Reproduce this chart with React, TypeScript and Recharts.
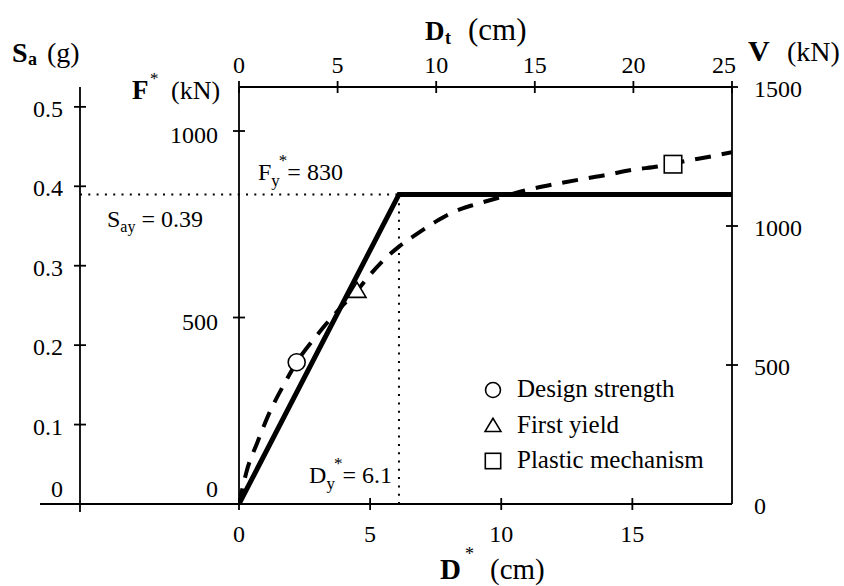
import React from 'react';
import { ComposedChart, Line, Scatter, XAxis, YAxis, ReferenceLine, Label, Legend } from 'recharts';

const FONT = '"Liberation Serif", "Times New Roman", Times, serif';
const INK = '#000';

// ---------- data ----------
const bilinearD = [0, 6.1, 18.8];
const bilinearF = [0, 830, 830];
const pushoverD = [0, 0.3, 0.7, 1.1, 1.75, 2.2, 3, 3.5, 4, 4.5, 5, 5.5, 6.1, 6.8, 7.5, 8, 8.5, 9, 10, 11, 12, 13, 14, 15, 16, 17, 18, 18.8];
const pushoverF = [0, 90, 165, 235, 325, 380, 455, 497, 536, 572, 615, 653, 690, 725, 757, 777, 792, 803, 823, 842, 857, 870, 882, 896, 905, 919, 932, 943];
const markerNames = ['Design strength', 'First yield', 'Plastic mechanism'];
const markerKinds = ['circle', 'triangle', 'square'];
const markerD = [2.2, 4.5, 16.55];
const markerF = [380, 572, 911];
const dStarTicks = [0, 5, 10, 15];
const dtTicks = [0, 5, 10, 15, 20, 25];
const fTicks = [0, 500, 1000];
const saTicks = [0, 0.1, 0.2, 0.3, 0.4, 0.5];
const vTicks = [0, 500, 1000, 1500];
const FY = 830;
const DY = 6.1;
const SAY = 0.39;
const D_DOMAIN: [number, number] = [0, 18.8];
const DT_DOMAIN: [number, number] = [0, 25];
const F_DOMAIN: [number, number] = [0, 1118];
const SA_DOMAIN: [number, number] = [0, 0.525];
const V_DOMAIN: [number, number] = [0, 1500];

// ---------- layout ----------
const W = 844;
const H = 586;
const TOP_H = 87;
const BOTTOM_H = 82;
const F_W = 159;
const SA_W = 80;
const V_W = 112;
const LEFT_EXT = 199;

const bilinear = bilinearD.map((d, i) => ({ d, f: bilinearF[i] }));
const pushover = pushoverD.map((d, i) => ({ d, f: pushoverF[i] }));
const markers = markerNames.map((name, i) => ({ name, kind: markerKinds[i], data: [{ d: markerD[i], f: markerF[i] }] }));
// rows that carry the top (Dt) axis scale
const dtRows = dtTicks.map((dt) => ({ dt }));

const txt = { fontFamily: FONT, fontSize: 24, fill: INK, style: { fontFamily: FONT } } as const;
const AX = { stroke: INK, strokeWidth: 1.8 };

function markerShape(kind: string, cx: number, cy: number, k = 1) {
  const common = { fill: '#fff', stroke: INK, strokeWidth: 1.6 };
  if (kind === 'circle') return <circle cx={cx} cy={cy} r={8.5 * k} {...common} />;
  if (kind === 'triangle') {
    const hw = 9 * k;
    const h = 15 * k;
    return <polygon points={`${cx},${cy - h * 0.55} ${cx - hw},${cy + h * 0.45} ${cx + hw},${cy + h * 0.45}`} {...common} />;
  }
  const s = 17.5 * k;
  return <rect x={cx - s / 2} y={cy - s / 2} width={s} height={s} {...common} />;
}

const BottomTick = (p: any) => (
  <g>
    <line x1={p.x} y1={p.y - 6} x2={p.x} y2={p.y + 6} {...AX} />
    <text x={p.x} y={p.y + 38} textAnchor="middle" {...txt}>{p.payload.value}</text>
  </g>
);
const TopTick = (p: any) => (
  <g>
    <line x1={p.x} y1={p.y - 6} x2={p.x} y2={p.y + 6} {...AX} />
    <text x={p.x + (p.payload.value === 25 ? -8 : 0)} y={p.y - 14} textAnchor="middle" {...txt}>{p.payload.value}</text>
  </g>
);
const FTick = (p: any) => {
  const zero = p.payload.value === 0;
  return (
    <g>
      {!zero && <line x1={p.x - 6} y1={p.y} x2={p.x + 6} y2={p.y} {...AX} />}
      <text x={p.x - 21} y={zero ? p.y - 7 : p.y + 12} textAnchor="end" {...txt}>{p.payload.value}</text>
    </g>
  );
};
const SaTick = (p: any) => {
  const v = p.payload.value;
  const zero = v === 0;
  return (
    <g>
      {zero ? (
        <line x1={p.x} y1={p.y} x2={p.x} y2={p.y + 8} {...AX} />
      ) : (
        <line x1={p.x - 6} y1={p.y} x2={p.x + 6} y2={p.y} {...AX} />
      )}
      <text x={p.x - 17} y={zero ? p.y - 7 : p.y + 10} textAnchor="end" {...txt}>{zero ? '0' : Number(v).toFixed(1)}</text>
    </g>
  );
};
const VTick = (p: any) => (
  <g>
    {p.payload.value !== 0 && <line x1={p.x - 6} y1={p.y} x2={p.x + 6} y2={p.y} {...AX} />}
    <text x={p.x + 22} y={p.y + 10} textAnchor="start" {...txt}>{p.payload.value}</text>
  </g>
);

const T = (props: any) => <text fontFamily={FONT} fill={INK} style={{ fontFamily: FONT }} {...props} />;

const FTitle = ({ viewBox }: any) => {
  const x = viewBox.x + 52;
  const y = viewBox.y + 12;
  return (
    <g>
      <T x={x} y={y} fontSize={27} fontWeight="bold">F</T>
      <T x={x + 18} y={y - 15} fontSize={17}>*</T>
      <T x={x + 39} y={y} fontSize={26}>(kN)</T>
    </g>
  );
};
const SaTitle = ({ viewBox }: any) => {
  const x = viewBox.x + 12;
  const y = viewBox.y - 25;
  return (
    <g>
      <T x={x} y={y} fontSize={28} fontWeight="bold">S</T>
      <T x={x + 16} y={y + 3} fontSize={18} fontWeight="bold">a</T>
      <T x={x + 35} y={y} fontSize={28}>(g)</T>
    </g>
  );
};
const VTitle = ({ viewBox }: any) => {
  const x = viewBox.x + 16;
  const y = viewBox.y - 26;
  return (
    <g>
      <T x={x} y={y} fontSize={30} fontWeight="bold">V</T>
      <T x={x + 39} y={y} fontSize={28}>(kN)</T>
    </g>
  );
};
const DtTitle = ({ viewBox }: any) => {
  const x = viewBox.x + 186;
  const y = viewBox.y + 40;
  return (
    <g>
      <T x={x} y={y} fontSize={27} fontWeight="bold">D</T>
      <T x={x + 20} y={y + 4} fontSize={18} fontWeight="bold">t</T>
      <T x={x + 43} y={y} fontSize={31}>(cm)</T>
    </g>
  );
};
const DTitle = ({ viewBox }: any) => {
  const x = viewBox.x + 201;
  const y = viewBox.y + 75;
  return (
    <g>
      <T x={x} y={y} fontSize={29} fontWeight="bold">D</T>
      <T x={x + 25} y={y - 19} fontSize={18}>*</T>
      <T x={x + 50} y={y} fontSize={29}>(cm)</T>
    </g>
  );
};

const FyLabel = ({ viewBox }: any) => (
  <text x={viewBox.x + 19} y={viewBox.y - 14} {...txt}>
    F<tspan fontSize={17} dy={6}>y</tspan>
    <tspan fontSize={17} dy={-20} dx={-1}>*</tspan>
    <tspan dy={14}>= 830</tspan>
  </text>
);
const SayLabel = ({ viewBox }: any) => (
  <text x={viewBox.x - 132} y={viewBox.y + 33} {...txt}>
    S<tspan fontSize={16} dy={5}>ay</tspan>
    <tspan dy={-5}> = 0.39</tspan>
  </text>
);
const DyLabel = ({ viewBox }: any) => (
  <text x={viewBox.x - 7} y={viewBox.y + viewBox.height - 21} textAnchor="end" {...txt}>
    D<tspan fontSize={17} dy={6}>y</tspan>
    <tspan fontSize={17} dy={-20} dx={-1}>*</tspan>
    <tspan dy={14}>= 6.1</tspan>
  </text>
);

const dotted = { stroke: INK, strokeWidth: 2, strokeDasharray: '2 6.3' };

const renderLegend = (props: any) => {
  const items = (props.payload || []).filter((it: any) => it.type !== 'none');
  return (
    <svg width={250} height={110} style={{ overflow: 'visible', display: 'block' }}>
      {items.map((it: any, i: number) => {
        const cy = 20 + i * 35.5;
        return (
          <g key={i}>
            {markerShape(it.type, 15, cy, 0.88)}
            <T x={39} y={cy + 7} fontSize={25}>{it.value}</T>
          </g>
        );
      })}
    </svg>
  );
};

export default function App() {
  return (
    <div style={{ position: 'absolute', left: 0, top: 0, background: '#fff' }}>
      <ComposedChart width={W} height={H} data={dtRows} margin={{ top: 0, right: 0, bottom: 0, left: 0 }} style={{ fontFamily: FONT }}>
        <XAxis xAxisId="d" type="number" dataKey="d" domain={D_DOMAIN} ticks={dStarTicks} allowDataOverflow
          orientation="bottom" height={BOTTOM_H} axisLine={AX} tickLine={false} tickSize={0} tickMargin={0}
          tick={BottomTick} label={DTitle} interval={0} />
        <XAxis xAxisId="dt" type="number" dataKey="dt" domain={DT_DOMAIN} ticks={dtTicks} allowDataOverflow
          orientation="top" height={TOP_H} axisLine={AX} tickLine={false} tickSize={0} tickMargin={0}
          tick={TopTick} label={DtTitle} interval={0} />
        <YAxis yAxisId="f" type="number" dataKey="f" domain={F_DOMAIN} ticks={fTicks} allowDataOverflow
          orientation="left" width={F_W} axisLine={AX} tickLine={false} tickSize={0} tickMargin={0}
          tick={FTick} label={FTitle} interval={0} />
        <YAxis yAxisId="sa" type="number" domain={SA_DOMAIN} ticks={saTicks} allowDataOverflow
          orientation="left" width={SA_W} axisLine={AX} tickLine={false} tickSize={0} tickMargin={0}
          tick={SaTick} label={SaTitle} interval={0} />
        <YAxis yAxisId="v" type="number" domain={V_DOMAIN} ticks={vTicks} allowDataOverflow
          orientation="right" width={V_W} axisLine={AX} tickLine={false} tickSize={0} tickMargin={0}
          tick={VTick} label={VTitle} interval={0} />

        <ReferenceLine xAxisId="d" yAxisId="f" segment={[{ x: 0, y: 0 }, { x: D_DOMAIN[1], y: 0 }]}
          shape={(p: any) => <line x1={p.x1 - LEFT_EXT} y1={p.y1} x2={p.x1} y2={p.y1} {...AX} />} />
        <ReferenceLine xAxisId="d" yAxisId="f" segment={[{ x: 0, y: FY }, { x: DY, y: FY }]}
          shape={(p: any) => <line x1={p.x1 - F_W} y1={p.y1} x2={p.x2} y2={p.y2} {...dotted} />}>
          <Label content={FyLabel} />
          <Label content={SayLabel} />
        </ReferenceLine>
        <ReferenceLine xAxisId="d" yAxisId="f" segment={[{ x: DY, y: 0 }, { x: DY, y: FY }]}
          stroke={INK} strokeWidth={2} strokeDasharray="2 6.3">
          <Label content={DyLabel} />
        </ReferenceLine>

        <Line xAxisId="d" yAxisId="f" data={bilinear} dataKey="f" type="linear" stroke={INK} strokeWidth={5}
          dot={false} activeDot={false} legendType="none" isAnimationActive={false} strokeLinejoin="miter" />
        <Line xAxisId="d" yAxisId="f" data={pushover} dataKey="f" type="monotone" stroke={INK} strokeWidth={4}
          strokeDasharray="16 11" dot={false} activeDot={false} legendType="none" isAnimationActive={false} />
        {markers.map((m) => (
          <Scatter key={m.name} xAxisId="d" yAxisId="f" name={m.name} data={m.data} dataKey="f"
            legendType={m.kind as any} isAnimationActive={false}
            shape={(p: any) => markerShape(m.kind, p.cx, p.cy)} />
        ))}
        <Legend layout="vertical" align="center" verticalAlign="middle" content={renderLegend}
          wrapperStyle={{ position: 'absolute', left: 478, top: 370, width: 250, height: 110 }} />
      </ComposedChart>
    </div>
  );
}
